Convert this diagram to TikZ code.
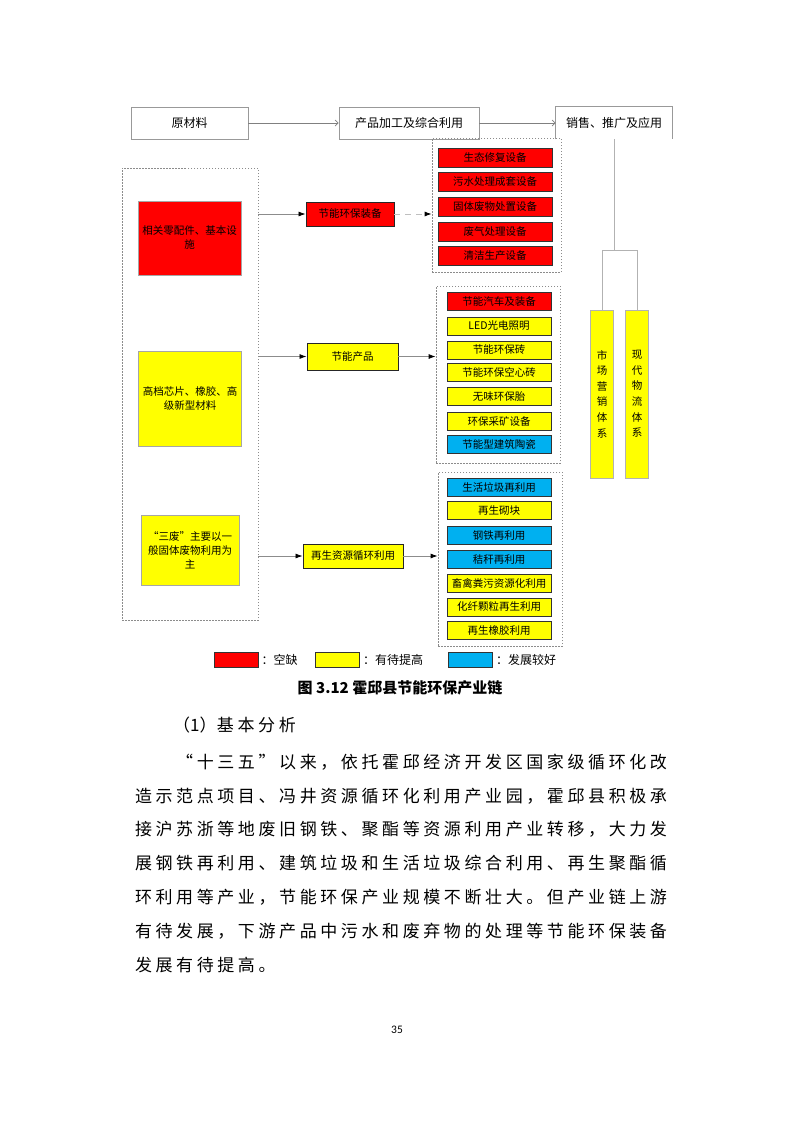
\documentclass[tikz,border=0pt]{standalone}
\usepackage{fontspec}
\usepackage{xcolor}
\usepackage{tikz}
\setmainfont{Noto Sans CJK SC}
\newfontfamily\pagenumfont{Carlito}
\usetikzlibrary{positioning,calc,arrows.meta}

\definecolor{gapred}{HTML}{FF0000}
\definecolor{midyellow}{HTML}{FFFF00}
\definecolor{goodblue}{HTML}{00B0F0}

% one character per cell, for the body lines
\newlength\cjkpitch
\setlength\cjkpitch{20.6pt}
\def\cjkrow#1{\cjkcell#1\relax}
\def\cjkcell#1{\ifx\relax#1\else\makebox[\cjkpitch]{#1}\expandafter\cjkcell\fi}

\begin{document}
\begin{tikzpicture}[x=1pt,y=-1pt,
    hdr/.style={draw=black!40,line width=0.8pt,minimum height=32pt,inner sep=0pt,font=\fontsize{12}{14}\selectfont},
    frame/.style={draw=black!45,line width=0.8pt,dash pattern=on 1.5pt off 1.5pt,inner sep=0pt},
    catbox/.style={draw=black!35,line width=0.6pt,align=center,inner sep=0pt,font=\fontsize{10.5}{14}\selectfont},
    midbox/.style={draw=black!85,line width=0.9pt,inner sep=0pt,font=\fontsize{10.5}{13}\selectfont},
    item/.style={draw=black!80,line width=0.9pt,inner sep=0pt,minimum width=104pt,minimum height=18pt,font=\fontsize{10.5}{13}\selectfont},
    vbox/.style={draw=black!30,line width=0.6pt,fill=midyellow,minimum width=23pt,minimum height=168pt,align=center,inner sep=0pt,font=\fontsize{10.5}{15.6}\selectfont},
    legbox/.style={draw=black!80,line width=0.8pt,minimum width=44pt,minimum height=15pt,inner sep=0pt},
    legtext/.style={inner sep=0pt,font=\fontsize{12}{14}\selectfont},
    hdrarrow/.style={draw=black!50,line width=0.7pt,-{Straight Barb[length=3pt,width=6pt]}},
    flow/.style={draw=black!45,line width=0.8pt,-{Latex[length=7pt,width=5pt,color=black]}},
    body/.style={anchor=west,inner sep=0pt,font=\fontsize{17}{20}\selectfont}]

    \useasboundingbox[fill=white] (0,0) rectangle (793,1122);

    % Header row
    \node[hdr,minimum width=117pt] (raw) at (189.5,123) {原材料};
    \node[hdr,minimum width=140pt] (proc) at (409,123) {产品加工及综合利用};
    \node[hdr,draw=none,minimum width=116pt] (sale) at (614,123) {销售、推广及应用};
    \draw[black!40,line width=0.8pt] (sale.south west) -- (sale.north west) -- (sale.north east) -- (sale.south east);
    \draw[hdrarrow] (raw) -- (proc);
    \draw[hdrarrow] (proc) -- (sale);

    % Upstream
    \node[frame,minimum width=136pt,minimum height=452pt] (up) at (190,394) {};
    \node[catbox,fill=gapred,minimum width=103pt,minimum height=74pt] (parts) at (189.5,238) {相关零配件、基本设\\施};
    \node[catbox,fill=midyellow,minimum width=103pt,minimum height=95pt] (chips) at (190,398.5) {高档芯片、橡胶、高\\级新型材料};
    \node[catbox,fill=midyellow,minimum width=98pt,minimum height=70pt] (waste) at (190,550) {“三废”主要以一\\般固体废物利用为\\主};

    % Midstream
    \node[midbox,fill=gapred,minimum width=88pt,minimum height=24pt] (equip) at (350,214) {节能环保装备};
    \node[midbox,fill=midyellow,minimum width=91pt,minimum height=27pt] (prod) at (352.5,356.5) {节能产品};
    \node[midbox,fill=midyellow,minimum width=100pt,minimum height=24pt] (recyc) at (353,556) {再生资源循环利用};

    % Downstream
    \node[frame,minimum width=129pt,minimum height=134pt] (eqset) at (496.5,205) {};
    \node[frame,minimum width=124pt,minimum height=177pt] (prset) at (498,374.5) {};
    \node[frame,minimum width=124pt,minimum height=174pt] (rcset) at (500,559) {};

    \foreach \yy/\col/\txt [count=\i] in {158/gapred/生态修复设备, 182/gapred/污水处理成套设备,
        206.5/gapred/固体废物处置设备, 232/gapred/废气处理设备, 256/gapred/清洁生产设备}
        \node[item,fill=\col,minimum width=114pt,minimum height=19pt] (eq\i) at (495,\yy) {\txt};
    \foreach \yy/\col/\txt [count=\i] in {301.5/gapred/节能汽车及装备, 326/midyellow/LED光电照明,
        350/midyellow/节能环保砖, 372/midyellow/节能环保空心砖, 396/midyellow/无味环保胎,
        421/midyellow/环保采矿设备, 444.5/goodblue/节能型建筑陶瓷}
        \node[item,fill=\col] (pr\i) at (499,\yy) {\txt};
    \foreach \yy/\col/\txt [count=\i] in {487/goodblue/生活垃圾再利用, 510.5/midyellow/再生砌块,
        535.5/goodblue/钢铁再利用, 559.5/goodblue/秸秆再利用, 583/midyellow/畜禽粪污资源化利用,
        607/midyellow/化纤颗粒再生利用, 630.5/midyellow/再生橡胶利用}
        \node[item,fill=\col] (rc\i) at (499,\yy) {\txt};

    \draw[flow] (equip -| up.east) -- (equip);
    \draw[flow,draw=black!25,dash pattern=on 6pt off 5pt] (equip) -- (equip -| eqset.west);
    \draw[flow] (prod -| up.east) -- (prod);
    \draw[flow] (prod) -- (prod -| prset.west);
    \draw[flow] (recyc -| up.east) -- (recyc);
    \draw[flow] (recyc) -- (recyc -| rcset.west);

    % Sales channels
    \node[vbox] (mkt) at (602,394) {市\\场\\营\\销\\体\\系};
    \node[vbox] (lgs) at (637,394) {现\\代\\物\\流\\体\\系};
    \coordinate (split) at (614,250);
    \draw[black!30,line width=0.8pt] (sale.south) -- (split);
    \draw[black!30,line width=0.8pt] (mkt.north) -- (mkt.north |- split) -- (lgs.north |- split) -- (lgs.north);

    % Legend
    \node[legbox,fill=gapred] (kred) at (236,659.5) {};
    \node[legtext,right=3pt of kred] (tred) {：空缺};
    \node[legbox,fill=midyellow] (kyel) at (337.5,659.5) {};
    \node[legtext,right=3pt of kyel] (tyel) {：有待提高};
    \node[legbox,fill=goodblue] (kblu) at (470.5,659.5) {};
    \node[legtext,right=3pt of kblu] (tblu) {：发展较好};

    % Caption and text
    \node[font=\bfseries\fontsize{15}{18}\selectfont] (cap) at (400,688) {图 3.12 霍邱县节能环保产业链};
    \node[body] (head) at (173,725) {\makebox[42pt][l]{（1）}\cjkrow{基本分析}};
    \node[body] (l1) at (174.2,762) {\cjkrow{“十三五”以来，依托霍邱经济开发区国家级循环化改}};
    \node[body] (l2) at (133,796) {\cjkrow{造示范点项目、冯井资源循环化利用产业园，霍邱县积极承}};
    \node[body] (l3) at (133,829) {\cjkrow{接沪苏浙等地废旧钢铁、聚酯等资源利用产业转移，大力发}};
    \node[body] (l4) at (133,863) {\cjkrow{展钢铁再利用、建筑垃圾和生活垃圾综合利用、再生聚酯循}};
    \node[body] (l5) at (133,897) {\cjkrow{环利用等产业，节能环保产业规模不断壮大。但产业链上游}};
    \node[body] (l6) at (133,931) {\cjkrow{有待发展，下游产品中污水和废弃物的处理等节能环保装备}};
    \node[body] (l7) at (133,965) {\cjkrow{发展有待提高。}};
    \node[font=\pagenumfont\fontsize{11.5}{13}\selectfont] (pnum) at (397,1030) {35};
\end{tikzpicture}
\end{document}
